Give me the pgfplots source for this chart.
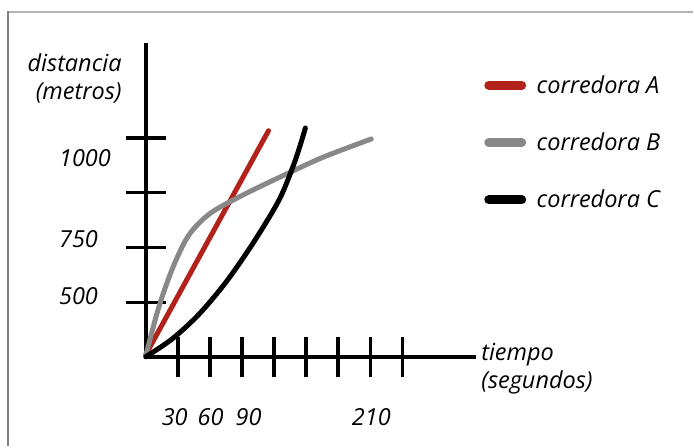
\documentclass[border=0pt]{standalone}
\usepackage{pgfplots}
\pgfplotsset{compat=1.18}
\usepackage{fontspec}
\setmainfont{Open Sans}
\definecolor{rojo}{HTML}{B2221A}
\definecolor{gris}{HTML}{888888}
\begin{document}
\begin{tikzpicture}[x=1pt,y=1pt,font=\itshape\fontsize{23.5}{28}\selectfont]
\path (0,0) rectangle (694,447);
\draw[color=black!30, line width=2.5pt] (8,435) -- (694,435);
\draw[color=black!50, line width=2.5pt] (8,436) -- (8,0);
\begin{axis}[
  at={(146pt,89pt)}, anchor=south west,
  scale only axis, width=331pt, height=315pt,
  xmin=0, xmax=309, ymin=0, ymax=5.73,
  axis lines=left,
  axis line style={-, line width=4pt},
  xtick={30,60,...,240}, ytick={1,2,3,4},
  xticklabels={}, yticklabels={},
  tick align=center, major tick length=40pt,
  major tick style={line width=3.5pt, black},
  clip=false,
  legend style={at={(1.024,0.903)}, anchor=north west, draw=none, fill=none,
    font=\itshape\fontsize{23.5}{26}\selectfont, row sep=34pt,
    inner sep=0pt, cells={anchor=west}},
  legend image code/.code={\draw[#1, line width=9pt, line cap=round] (0pt,0pt) -- (33pt,0pt);
    \path[draw=none, fill=none] (-4.5pt,0pt) -- (46pt,0pt);},
]
\addplot[rojo, line width=5pt, line cap=round] coordinates {(0,0.05) (114.8,4.13)};
\addlegendentry{corredora A}
\addplot[gris, line width=5pt, line cap=round, smooth] coordinates {
  (0,0.03) (12,0.9) (25,1.62) (40,2.22) (60,2.62) (90,2.95)
  (125,3.28) (165,3.64) (211,3.98)};
\addlegendentry{corredora B}
\addplot[black, line width=5pt, line cap=round, smooth] coordinates {
  (0,0.01) (25,0.34) (50,0.79) (75,1.37) (100,2.07)
  (125,2.88) (140,3.6) (149.3,4.18)};
\addlegendentry{corredora C}
\end{axis}
\node[anchor=west, inner sep=0pt] at (59,289) {1000};
\node[anchor=west, inner sep=0pt] at (59,207) {750};
\node[anchor=west, inner sep=0pt] at (59,150) {500};
\node[anchor=east, align=right, inner sep=0pt] at (122,368) {distancia\\(metros)};
\node[anchor=west, align=left, inner sep=0pt] at (482,78) {tiempo\\(segundos)};
\node at (175,29) {30};
\node at (211,29) {60};
\node at (249,29) {90};
\node at (372,29) {210};
\end{tikzpicture}
\end{document}
